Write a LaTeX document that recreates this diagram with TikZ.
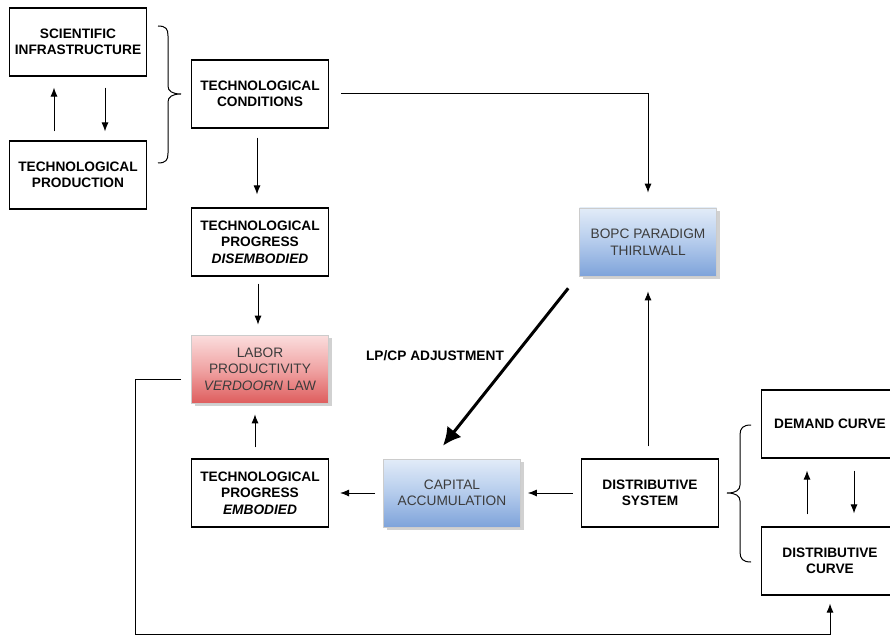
\documentclass[tikz,border=0pt]{standalone}
\usepackage{fontspec}
\setmainfont{Liberation Sans}
\usetikzlibrary{arrows.meta,shadows,calc}
\definecolor{lptop}{HTML}{FBDEDE}
\definecolor{lpmid}{HTML}{F0A4A4}
\definecolor{lpbot}{HTML}{DE5E5E}
\definecolor{bltop}{HTML}{E2ECF8}
\definecolor{blmid}{HTML}{B4CBEC}
\definecolor{blbot}{HTML}{7EA3DA}
\definecolor{txtgray}{HTML}{3C3C3C}
\tikzset{
  box/.style={draw, line width=1.1pt, minimum width=137pt, minimum height=68pt, align=center, inner sep=2pt, font=\fontsize{13.7}{16.5}\selectfont\bfseries},
  gbox/.style={draw=gray!40, line width=0.6pt, minimum width=137pt, minimum height=68pt, align=center, inner sep=2pt, font=\fontsize{13.7}{16.5}\selectfont, text=txtgray, drop shadow={shadow xshift=3pt, shadow yshift=-3pt, fill=gray!45, opacity=0.8}},
  redg/.style={gbox, top color=lptop, bottom color=lpbot, middle color=lpmid},
  blueg/.style={gbox, top color=bltop, bottom color=blbot, middle color=blmid},
  arr/.style={-{Latex[length=9pt,width=7pt]}, line width=1pt},
  bigarr/.style={-{Latex[length=18pt,width=18pt]}, line width=3pt},
  brc/.style={line width=1pt},
  lbl/.style={font=\fontsize{13.7}{16.5}\selectfont\bfseries},
}
\begin{document}
\begin{tikzpicture}[x=1pt,y=-1pt]
\clip (0,0) rectangle (890,636);
\fill[white] (0,0) rectangle (890,636);
% nodes
\node[box] (sci) at (78,42) {SCIENTIFIC\\INFRASTRUCTURE};
\node[box] (prod) at (78,175) {TECHNOLOGICAL\\PRODUCTION};
\node[box] (tc) at (260,94) {TECHNOLOGICAL\\CONDITIONS};
\node[box] (tpd) at (260,242) {TECHNOLOGICAL\\PROGRESS\\\textit{DISEMBODIED}};
\node[redg] (lp) at (260,369) {LABOR\\PRODUCTIVITY\\\textit{VERDOORN} LAW};
\node[box] (tpe) at (260,493) {TECHNOLOGICAL\\PROGRESS\\\textit{EMBODIED}};
\node[blueg] (ca) at (452,493) {CAPITAL\\ACCUMULATION};
\node[box] (ds) at (650,493) {DISTRIBUTIVE\\SYSTEM};
\node[blueg] (bopc) at (648,242) {BOPC PARADIGM\\THIRLWALL};
\node[box] (dem) at (830,424) {DEMAND CURVE};
\node[box] (dcur) at (830,561) {DISTRIBUTIVE\\CURVE};
\node[lbl] (adj) at (435,356) {LP/CP ADJUSTMENT};
% sci / prod arrows
\draw[arr, shorten <=9pt, shorten >=11pt] ([xshift=-24pt]prod.north) -- ([xshift=-24pt]sci.south);
\draw[arr, shorten <=11pt, shorten >=9pt] ([xshift=27pt]sci.south) -- ([xshift=27pt]prod.north);
% left brace
\draw[brc] (158,26) .. controls (166,26) and (168,29) .. (168,36) -- (168,86)
  .. controls (168,91) and (172,94) .. (181,94)
  .. controls (172,94) and (168,97) .. (168,102) -- (168,153)
  .. controls (168,160) and (166,163) .. (158,163);
% technological conditions
\draw[arr, shorten <=9pt, shorten >=13pt] ([xshift=-3pt]tc.south) -- ([xshift=-3pt]tpd.north);
\coordinate (tcturn) at (648,94);
\draw[arr, shorten <=12pt, shorten >=15pt] (tc.east) -- (tcturn) -- (bopc.north);
\draw[arr, shorten <=7pt, shorten >=10pt] ([xshift=-2pt]tpd.south) -- ([xshift=-2pt]lp.north);
\draw[arr, shorten <=11pt, shorten >=11pt] ([xshift=-5pt]tpe.north) -- ([xshift=-5pt]lp.south);
\draw[arr, shorten <=8pt, shorten >=11pt] (ca.west) -- (tpe.east);
\draw[arr, shorten <=8pt, shorten >=7pt] (ds.west) -- (ca.east);
\draw[arr, shorten <=12pt, shorten >=15pt] ([xshift=-2pt]ds.north) -- ([xshift=-2pt]ds.north |- bopc.south);
% thick adjustment arrow
\draw[bigarr] ($(bopc.south west)+(-11,12)$) -- ($(ca.north)+(-9,-13)$);
% feedback loop
\coordinate (fbL) at (135,634);
\draw[arr, shorten >=8pt] ($(lp.west)+(-10,10)$) -| (fbL) -| (dcur.south);
% right brace
\draw[brc] (751,425) .. controls (743,425) and (740,428) .. (740,435) -- (740,485)
  .. controls (740,490) and (736,493) .. (727,493)
  .. controls (736,493) and (740,496) .. (740,501) -- (740,552)
  .. controls (740,559) and (743,562) .. (751,562);
% demand / distributive arrows
\draw[arr, shorten <=12pt, shorten >=12pt] ([xshift=-23pt]dcur.north) -- ([xshift=-23pt]dem.south);
\draw[arr, shorten <=12pt, shorten >=13pt] ([xshift=24pt]dem.south) -- ([xshift=24pt]dcur.north);
\end{tikzpicture}
\end{document}
